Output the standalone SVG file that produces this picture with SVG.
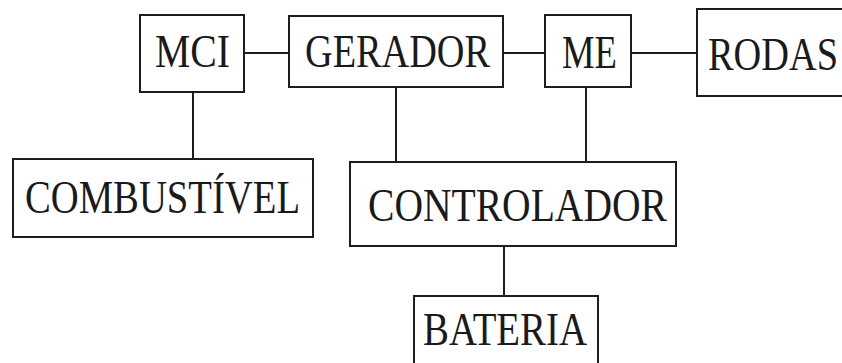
<svg xmlns="http://www.w3.org/2000/svg" width="842" height="363" viewBox="0 0 842 363">
  <style>
    .box { fill: #ffffff; stroke: #1e1e1e; stroke-width: 2; }
    .wire { stroke: #1e1e1e; stroke-width: 2; fill: none; }
    .lbl { font-family: "Liberation Serif", "Times New Roman", serif; font-size: 46px; fill: #1a1a1a; }
  </style>
  <rect width="842" height="363" fill="#ffffff"/>

  <g id="connectors">
    <line class="wire" x1="244" y1="53" x2="289" y2="53"/>
    <line class="wire" x1="503" y1="53" x2="545" y2="53"/>
    <line class="wire" x1="631" y1="53" x2="697" y2="53"/>
    <line class="wire" x1="193" y1="92" x2="193" y2="159"/>
    <line class="wire" x1="396" y1="87" x2="396" y2="162"/>
    <line class="wire" x1="586" y1="87" x2="586" y2="162"/>
    <line class="wire" x1="504" y1="246" x2="504" y2="296"/>
  </g>

  <g id="mci">
    <rect class="box" x="140" y="15" width="104" height="77"/>
    <text class="lbl" x="155" y="67" textLength="75" lengthAdjust="spacingAndGlyphs">MCI</text>
  </g>
  <g id="gerador">
    <rect class="box" x="289" y="16" width="214" height="71"/>
    <text class="lbl" x="305" y="67" textLength="185" lengthAdjust="spacingAndGlyphs">GERADOR</text>
  </g>
  <g id="me">
    <rect class="box" x="545" y="15" width="86" height="72"/>
    <text class="lbl" x="562" y="68" textLength="55" lengthAdjust="spacingAndGlyphs">ME</text>
  </g>
  <g id="rodas">
    <rect class="box" x="697" y="9" width="160" height="87"/>
    <text class="lbl" x="708" y="70" textLength="130" lengthAdjust="spacingAndGlyphs">RODAS</text>
  </g>
  <g id="combustivel">
    <rect class="box" x="13" y="159" width="300" height="78"/>
    <text class="lbl" x="25" y="213" textLength="275" lengthAdjust="spacingAndGlyphs">COMBUSTÍVEL</text>
  </g>
  <g id="controlador">
    <rect class="box" x="350" y="162" width="326" height="84"/>
    <text class="lbl" x="368" y="221" textLength="299" lengthAdjust="spacingAndGlyphs">CONTROLADOR</text>
  </g>
  <g id="bateria">
    <rect class="box" x="414" y="296" width="184" height="80"/>
    <text class="lbl" x="423" y="345" textLength="164" lengthAdjust="spacingAndGlyphs">BATERIA</text>
  </g>
</svg>
